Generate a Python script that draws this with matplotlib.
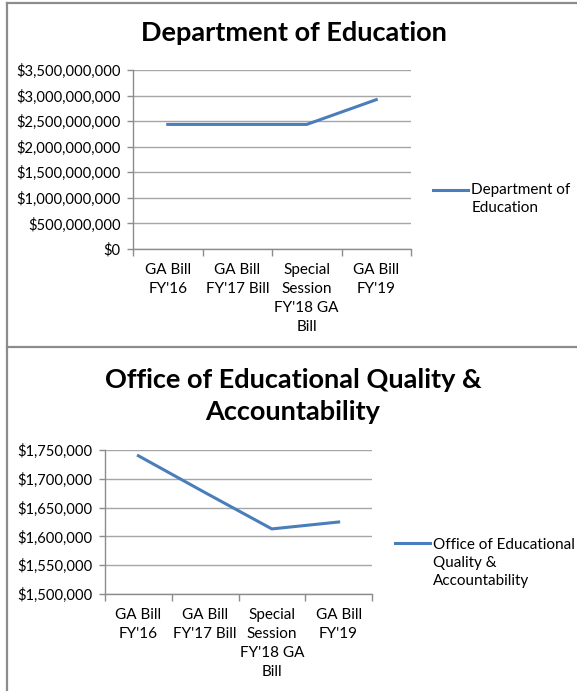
import numpy as np
import matplotlib
matplotlib.use("Agg")
from matplotlib import pyplot as plt
from matplotlib.ticker import FuncFormatter, FixedLocator
from matplotlib.lines import Line2D
from matplotlib.legend_handler import HandlerLine2D

plt.rcParams['font.family'] = ['Lato', 'DejaVu Sans']

# data
categories = ["GA Bill\nFY'16", "GA Bill\nFY'17 Bill", "Special\nSession\nFY'18 GA\nBill", "GA Bill\nFY'19"]
doe_values = [2436000000, 2436000000, 2436000000, 2920000000]
oeqa_values = [1740000, 1676000, 1613000, 1625000]

W, H = 577, 691
fig = plt.figure(figsize=(W / 100, H / 100), dpi=100)

def fx(px):
    return px / W

def fy(py):
    return 1 - py / H

# panel borders
border = '#8c8c8c'
fig.add_artist(Line2D([fx(7), fx(7)], [fy(3), fy(691)], color=border, lw=1.6))
fig.add_artist(Line2D([fx(7), fx(577)], [fy(3), fy(3)], color=border, lw=1.6))
fig.add_artist(Line2D([fx(7), fx(577)], [fy(347), fy(347)], color=border, lw=1.6))

money = FuncFormatter(lambda v, p: f"${v:,.0f}")
line_color = '#4a7ebb'
grid_color = '#a6a6a6'


class FirstLineHandler(HandlerLine2D):
    # legend line sits next to the first text line, like in excel
    def __init__(self, shift, **kw):
        super().__init__(**kw)
        self.shift = shift

    def create_artists(self, legend, orig_handle, xdescent, ydescent, width, height, fontsize, trans):
        arts = super().create_artists(legend, orig_handle, xdescent, ydescent, width, height, fontsize, trans)
        for a in arts:
            a.set_ydata(np.asarray(a.get_ydata()) + self.shift)
        return arts


def style_axes(ax, yticks):
    x = np.arange(len(categories))
    ax.set_xlim(-0.5, len(categories) - 0.5)
    ax.set_xticks(x)
    ax.set_xticklabels(categories, fontsize=11, linespacing=1.45, va='top')
    ax.xaxis.set_minor_locator(FixedLocator(np.arange(-0.5, len(categories), 1.0)))
    ax.tick_params(axis='x', which='major', length=0, pad=10)
    ax.tick_params(axis='x', which='minor', length=5, color=border, width=1)
    ax.set_yticks(yticks)
    ax.set_ylim(yticks[0], yticks[-1])
    ax.yaxis.set_major_formatter(money)
    ax.tick_params(axis='y', length=4, color=border, width=1, labelsize=10.6, pad=5)
    ax.grid(axis='y', color=grid_color, lw=1)
    ax.set_axisbelow(True)
    for s in ['top', 'right']:
        ax.spines[s].set_visible(False)
    for s in ['left', 'bottom']:
        ax.spines[s].set_color(border)
        ax.spines[s].set_linewidth(1)


def add_legend(ax, line, x, y, shift):
    leg = ax.legend(loc='center left', bbox_to_anchor=(fx(x), fy(y)), bbox_transform=fig.transFigure,
                    frameon=False, fontsize=11, handlelength=2.3, handletextpad=0.2,
                    borderaxespad=0, borderpad=0, handler_map={line: FirstLineHandler(shift)})
    for t in leg.get_texts():
        t.set_linespacing(1.4)


# top chart
ax1 = fig.add_axes([fx(133), fy(249), fx(411 - 133), (249 - 70) / H])
l1, = ax1.plot(np.arange(len(categories)), doe_values, color=line_color, lw=2.2, label='Department of\nEducation')
style_axes(ax1, np.arange(0, 3500000001, 500000000))
fig.text(fx(294), fy(33), 'Department of Education', fontsize=19.5, fontweight='bold', ha='center', va='center')
add_legend(ax1, l1, 433, 199, 6.8)

# bottom chart
ax2 = fig.add_axes([fx(105), fy(594), fx(372 - 105), (594 - 450) / H])
l2, = ax2.plot(np.arange(len(categories)), oeqa_values, color=line_color, lw=2.2,
               label='Office of Educational\nQuality &\nAccountability')
style_axes(ax2, np.arange(1500000, 1750001, 50000))
fig.text(fx(293), fy(396), 'Office of Educational Quality &\nAccountability', fontsize=19.5, fontweight='bold',
         ha='center', va='center', linespacing=1.35)
add_legend(ax2, l2, 395, 563, 14.2)

fig.savefig('out.png', dpi=100)
